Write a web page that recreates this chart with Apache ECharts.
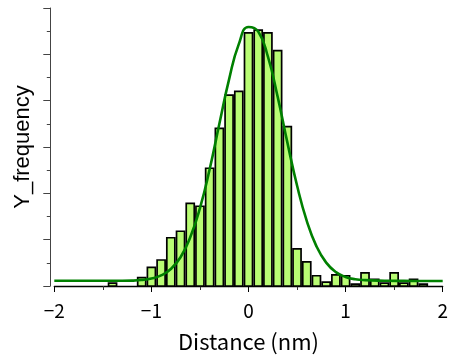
<!DOCTYPE html>
<html>
<head>
<meta charset="utf-8">
<script src="https://cdn.jsdelivr.net/npm/echarts@6/dist/echarts.min.js"></script>
<style>
  html, body { margin: 0; padding: 0; background: #fff; }
  #main { width: 452px; height: 360px; }
</style>
</head>
<body>
<div id="main"></div>
<script>
// histogram bins (centre of bin, nm) and counts
const binCenters = [-1.4, -1.3, -1.2, -1.1, -1.0, -0.9, -0.8, -0.7, -0.6, -0.5, -0.4, -0.3, -0.2, -0.1,
  0.0, 0.1, 0.2, 0.3, 0.4, 0.5, 0.6, 0.7, 0.8, 0.9, 1.0, 1.1, 1.2, 1.3, 1.4, 1.5, 1.6, 1.7, 1.8]
const binCounts = [4, 0, 0, 10, 21, 29, 53, 60, 90, 87, 128, 171, 207, 211,
  274, 277, 274, 255, 173, 41, 27, 12, 5, 13, 12, 3, 15, 8, 4, 15, 4, 8, 3]

// fitted curve
const fitX = [-2.0, -1.8, -1.6, -1.4, -1.2, -1.1, -1.0, -0.9, -0.8, -0.7, -0.6, -0.5, -0.4, -0.3, -0.2, -0.1,
  0.0, 0.1, 0.2, 0.3, 0.4, 0.5, 0.6, 0.7, 0.8, 0.9, 1.0, 1.1, 1.2, 1.4, 1.6, 1.8, 2.0]
const fitY = [5.6, 5.6, 5.6, 5.6, 5.8, 6.4, 8.0, 11.4, 18.4, 31, 52.5, 84, 126, 175, 223, 261,
  279.5, 274.6, 247.4, 204.4, 155, 108.4, 70.3, 42.8, 25.2, 15, 9.8, 7.3, 6.3, 5.7, 5.5, 5.4, 5.4]

const xTicks = [-2, -1, 0, 1, 2]
const binWidth = 0.1

const font = '"Noto Sans CJK JP", "Liberation Sans", sans-serif'

const chart = echarts.init(document.getElementById('main'), null, { renderer: 'canvas' })

const barData = binCenters.map((c, i) => [c, binCounts[i]])
const fitData = fitX.map((x, i) => [x, fitY[i]])

chart.setOption({
  animation: false,
  backgroundColor: '#fff',
  grid: { left: 54.3, right: 9.3, top: 8, bottom: 74 },
  xAxis: {
    type: 'value',
    min: xTicks[0],
    max: xTicks[xTicks.length - 1],
    interval: 1,
    name: 'Distance (nm)',
    nameLocation: 'middle',
    nameGap: 45,
    nameTextStyle: { fontFamily: font, fontSize: 22, color: '#000' },
    axisLine: { onZero: false, lineStyle: { color: '#000', width: 1.3 } },
    axisTick: { length: 6, lineStyle: { color: '#000' } },
    minorTick: { show: true, splitNumber: 2, length: 4, lineStyle: { color: '#333' } },
    splitLine: { show: false },
    axisLabel: {
      margin: 15,
      fontFamily: font,
      fontSize: 19,
      color: '#000',
      formatter: v => String(v).replace('-', '\u2212')
    }
  },
  yAxis: {
    type: 'value',
    min: 0,
    max: 300,
    interval: 50,
    offset: 4,
    name: 'Y_frequency',
    nameLocation: 'middle',
    nameGap: 16,
    nameTextStyle: { fontFamily: 'Liberation Sans, sans-serif', fontSize: 22, color: '#000' },
    axisLine: { show: true, onZero: false, lineStyle: { color: '#444', width: 1 } },
    axisTick: { show: true, length: 7, lineStyle: { color: '#444' } },
    minorTick: { show: true, splitNumber: 2, length: 3.5, lineStyle: { color: '#444' } },
    splitLine: { show: false },
    axisLabel: { show: false }
  },
  series: [
    {
      type: 'custom',
      data: barData,
      z: 2,
      renderItem: function (params, api) {
        const c = api.value(0)
        const v = api.value(1)
        if (!v) return
        const lw = 1.7
        const p0 = api.coord([c - binWidth / 2, 0])
        const p1 = api.coord([c + binWidth / 2, v])
        return {
          type: 'rect',
          shape: {
            x: p0[0] + lw / 2,
            y: p1[1] + lw / 2,
            width: p1[0] - p0[0] - lw,
            height: p0[1] - p1[1] - lw / 2
          },
          style: { fill: '#b9fc74', stroke: '#000', lineWidth: lw }
        }
      }
    },
    {
      type: 'line',
      data: fitData,
      smooth: 0.5,
      symbol: 'none',
      z: 3,
      lineStyle: { color: '#008000', width: 2.6 }
    }
  ]
})
</script>
</body>
</html>
